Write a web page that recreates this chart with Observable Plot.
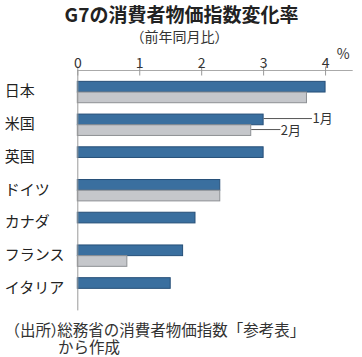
<!DOCTYPE html>
<html><head><meta charset="utf-8">
<script src="https://cdn.jsdelivr.net/npm/d3@7"></script>
<script src="https://cdn.jsdelivr.net/npm/@observablehq/plot@0.6"></script>
<style>
body{margin:0;background:#fff;font-family:"Noto Sans CJK JP",sans-serif;}
#wrap{position:relative;width:362px;height:357px;overflow:hidden;}
.t{position:absolute;white-space:nowrap;color:#222;line-height:1;}
#title{left:0;width:363px;text-align:center;top:4px;font-size:19px;font-weight:700;}
#sub{left:0;width:359px;text-align:center;top:28.5px;font-size:14px;color:#333;}
#cap{left:4.5px;top:320.5px;font-size:15.5px;line-height:17.5px;color:#333;}
#cap .l2{padding-left:53.5px;}
.pr{font-feature-settings:"palt";margin-right:-1.5px;}
#chart{position:absolute;left:0;top:0;}
</style></head><body>
<div id="wrap">
<div id="chart"></div>
<div class="t" id="title">G7の消費者物価指数変化率</div>
<div class="t" id="sub">（前年同月比）</div>
<div class="t" id="cap">（出所<span class="pr">）</span>総務省の消費者物価指数「参考表」<br><span class="l2">から作成</span></div>
</div>
<script>
const countries = ["日本","米国","英国","ドイツ","カナダ","フランス","イタリア"];
const jan = [4.0, 3.0, 3.0, 2.3, 1.9, 1.7, 1.5];
const feb = [3.7, 2.8, null, 2.3, null, 0.8, null];
const xTicks = [0, 1, 2, 3, 4];
const unitLabel = ["%"];
const monthLabels = ["1月", "2月"];
const calloutEnds = [3.78, 3.27];

const rows = countries.map((c, i) => ({country: c, jan: jan[i], feb: feb[i]}));
const febRows = rows.filter(d => d.feb != null);
const callouts = [
  {label: monthLabels[0], country: countries[1], value: jan[1], end: calloutEnds[0]},
  {label: monthLabels[1], country: countries[1], value: feb[1], end: calloutEnds[1]}
];

const half = 10.7;
const blue = "#3a6f9f", blueStroke = "#264f78";
const grey = "#c5c7cb", greyStroke = "#8d9094";
const font = '"Noto Sans CJK JP", sans-serif';

const chart = Plot.plot({
  width: 362, height: 357,
  marginTop: 70, marginBottom: 46.6, marginLeft: 77.3, marginRight: 10.3,
  x: {domain: [0, 4.43], axis: null, label: null},
  y: {domain: countries, padding: 0.347, round: false, axis: null, label: null},
  style: {fontFamily: font, background: "transparent", color: "#222"},
  marks: [
    Plot.barX(rows, {x: "jan", y: "country", insetBottom: half, fill: blue, stroke: blueStroke, strokeWidth: 1}),
    Plot.barX(febRows, {x: "feb", y: "country", insetTop: half, fill: grey, stroke: greyStroke, strokeWidth: 1}),
    Plot.ruleX([0], {stroke: "#9a9a9a"}),
    Plot.frame({anchor: "top", stroke: "#aaaaaa"}),
    Plot.axisX({anchor: "top", ticks: xTicks, tickSize: 9, dy: 4.5, tickFormat: () => "", stroke: "#999", label: null}),
    Plot.axisX({anchor: "top", ticks: xTicks, tickSize: 0, tickPadding: 2.5, tickFormat: d => String(d), fontSize: 14, fill: "#333", label: null}),
    Plot.axisY({anchor: "left", tickSize: 0, tickPadding: 73, textAnchor: "start", fontSize: 15, dy: -1, fill: "#222", label: null}),
    Plot.text(unitLabel, {text: d => d, frameAnchor: "top-right", dx: -9, dy: -21, textAnchor: "middle", fontSize: 14, fill: "#333"}),
    Plot.link([callouts[0]], {x1: "value", x2: "end", y1: "country", y2: "country", dy: -6.7, stroke: "#555"}),
    Plot.link([callouts[1]], {x1: "value", x2: "end", y1: "country", y2: "country", dy: 4.3, stroke: "#555"}),
    Plot.text([callouts[0]], {x: "end", y: "country", text: "label", textAnchor: "start", dx: 0.5, dy: -6.7, fontSize: 13, fill: "#333"}),
    Plot.text([callouts[1]], {x: "end", y: "country", text: "label", textAnchor: "start", dx: 0.5, dy: 6, fontSize: 13, fill: "#333"})
  ]
});
document.getElementById("chart").appendChild(chart);
</script>
</body></html>
